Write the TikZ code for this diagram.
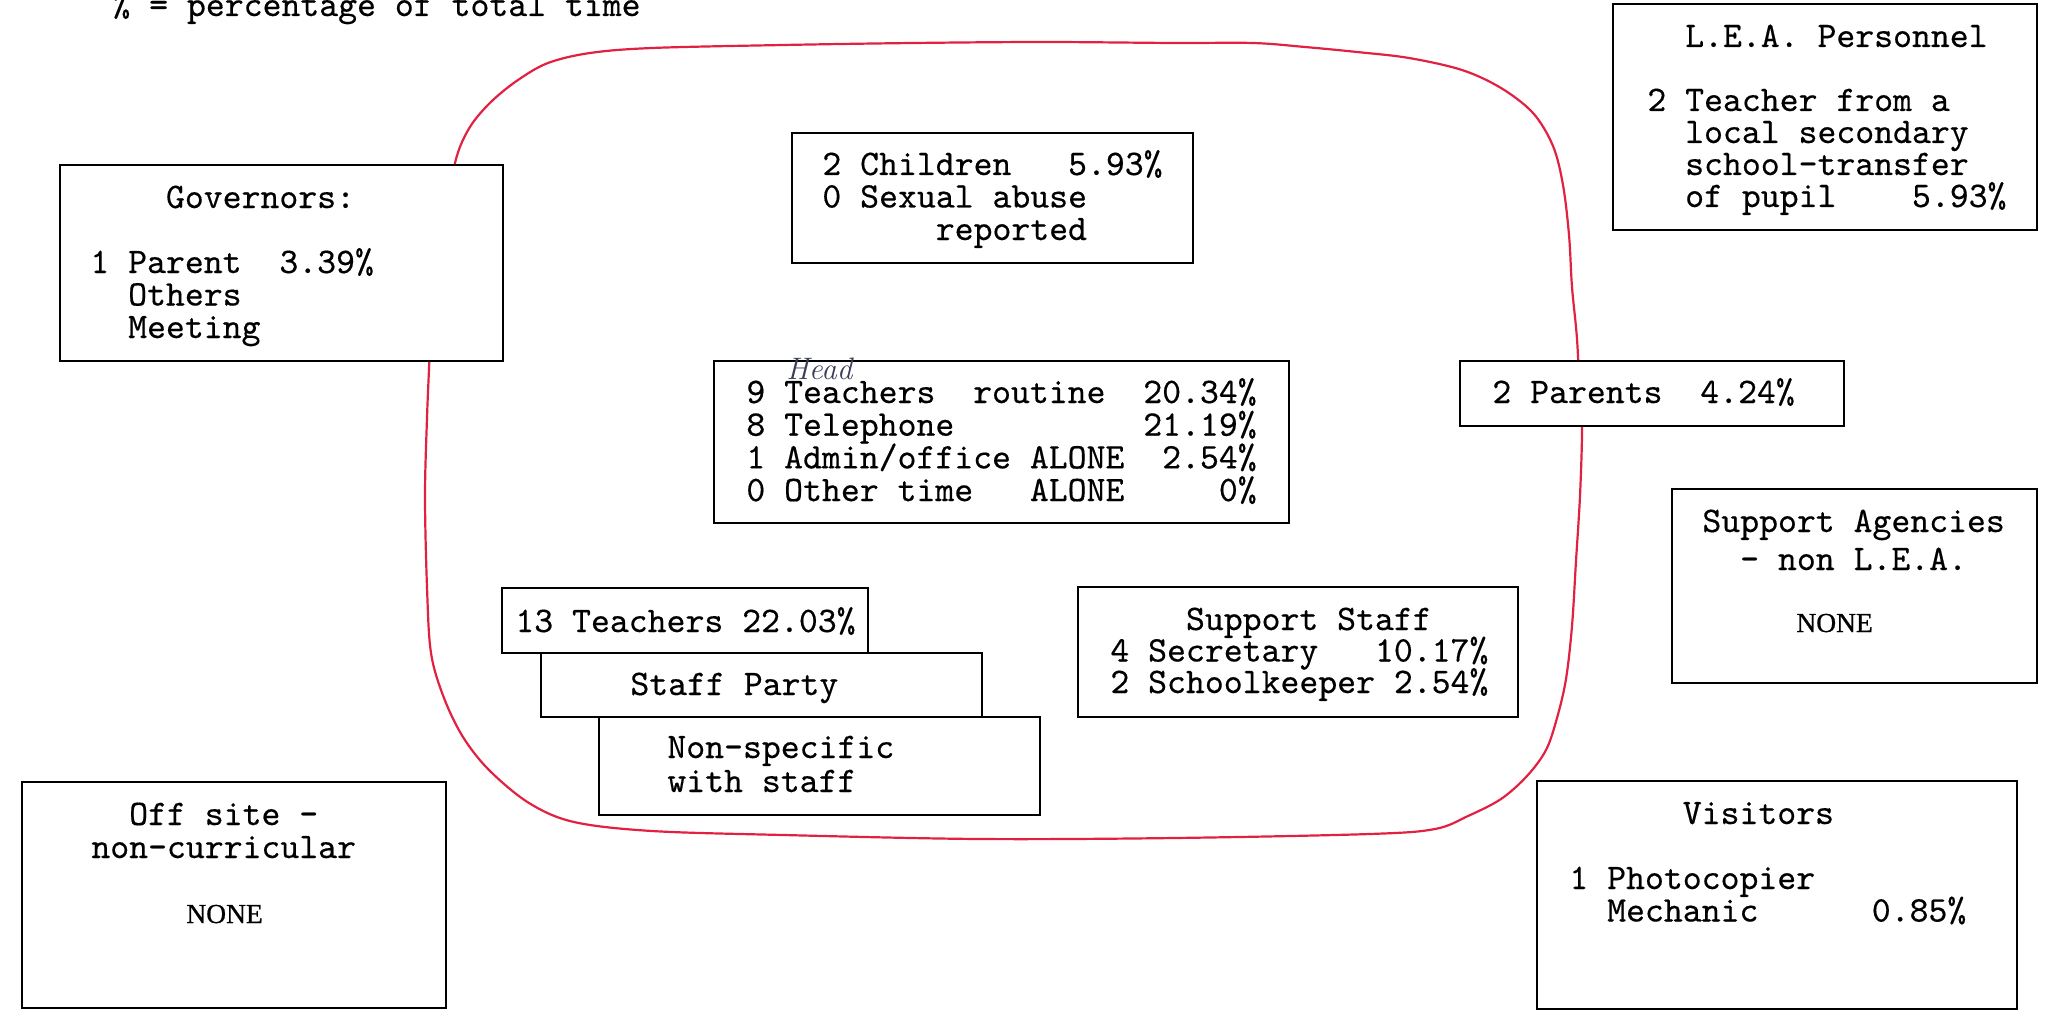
\documentclass[tikz,border=0pt]{standalone}
\usepackage{fontspec}
\newfontfamily\mono{lmmono10-regular}[Extension=.otf, WordSpace={1,0,0}, FakeBold=0.4]
\newfontfamily\tms{Liberation Serif}[FakeBold=0.8]
\usetikzlibrary{fit}
\definecolor{loopred}{RGB}{226,32,66}
\definecolor{pencil}{RGB}{58,62,88}
% stacked lines with a fixed baseline distance; the box baseline is the first line
\newcommand\rows[2]{\vtop{\baselineskip=#1\lineskiplimit=-\maxdimen\lineskip=0pt\halign{##\hfil\cr#2\crcr}}}
\begin{document}
\frenchspacing
\begin{tikzpicture}[x=0.5pt,y=-0.5pt,
  box/.style={draw=black, fill=white, line width=1pt, inner sep=0pt, outer sep=0pt},
  tA/.style={inner sep=0pt, anchor=base west, font=\mono\fontsize{18}{18}\selectfont},
  nonetxt/.style={inner sep=0pt, anchor=base west, font=\tms\fontsize{13.75}{14}\selectfont},
  hand/.style={inner sep=0pt, anchor=base west, text=pencil, font=\fontsize{15.5}{15.5}\selectfont\itshape},
  redline/.style={draw=loopred, line width=1.1pt, line cap=round, line join=round}]
\useasboundingbox (0,0) rectangle (2046,1011);

% key
\node[tA] (key) at (111,16) {\% = percentage of total time};

% the hand-drawn boundary of the school site
\draw[redline] plot[smooth, tension=0.55] coordinates {
  (452,185) (455,163) (462,142) (474,121) (493,100) (518,80) (548,63) (590,53)
  (652,48) (783,45) (913,43) (1044,42) (1175,43) (1253,43) (1305,47) (1357,52)
  (1409,58) (1462,70) (1501,88) (1533,113) (1553,146) (1563,185) (1569,235)
  (1572,287) (1577,339) (1580,400) (1582,431) (1580,496) (1576,561) (1572,626)
  (1566,679) (1557,718) (1546,750) (1527,776) (1501,799) (1468,816) (1435,829)
  (1370,834) (1175,838) (979,839) (783,835) (652,831) (574,822) (529,803)
  (489,770) (463,737) (444,698) (431,653) (427,587) (425,496) (427,418)
  (429,369) (430,340)};

% Governors
\node[box, fit={(60,165) (503,361)}] (gov) {};
\node[tA] (govt) at (90,208) {\rows{16.25pt}{~~~~Governors:\cr\cr 1 Parent~~3.39\%\cr~~Others\cr~~Meeting}};

% Children
\node[box, fit={(792,133) (1193,263)}] (chi) {};
\node[tA] (chit) at (822,175) {\rows{16.25pt}{2 Children~~~5.93\%\cr 0 Sexual abuse\cr~~~~~~reported}};

% head teacher's own contacts
\node[box, fit={(714,361) (1289,523)}] (cen) {};
\node[tA] (cent) at (746,403) {\rows{16.35pt}{9 Teachers~~routine~~20.34\%\cr 8 Telephone~~~~~~~~~~21.19\%\cr 1 Admin/office ALONE~~2.54\%\cr 0 Other time~~~ALONE~~~~~0\%}};
\node[hand] (head) at (786,379) {Head};

% teachers, stacked boxes
\node[box, fit={(502,588) (868,653)}] (tea) {};
\node[tA] (teat) at (515,632) {13 Teachers 22.03\%};
\node[box, fit={(541,653) (982,717)}] (par) {};
\node[tA] (part) at (630,695) {Staff Party};
\node[box, fit={(599,717) (1040,815)}] (nsp) {};
\node[tA] (nspt) at (667,758) {\rows{17pt}{Non-specific\cr with staff}};

% support staff
\node[box, fit={(1078,587) (1518,717)}] (sup) {};
\node[tA] (supt) at (1110,630) {\rows{15.75pt}{~~~~Support Staff\cr 4 Secretary~~~10.17\%\cr 2 Schoolkeeper 2.54\%}};

% L.E.A. personnel
\node[box, fit={(1613,4) (2037,230)}] (lea) {};
\node[tA] (leat) at (1647,47) {\rows{16pt}{~~L.E.A. Personnel\cr\cr 2 Teacher from a\cr~~local secondary\cr~~school-transfer\cr~~of pupil~~~~5.93\%}};

% parents
\node[box, fit={(1460,361) (1844,426)}] (pare) {};
\node[tA] (paret) at (1492,403) {2 Parents~~4.24\%};

% support agencies
\node[box, fit={(1672,489) (2037,683)}] (age) {};
\node[tA] (aget) at (1702,532) {\rows{19pt}{Support Agencies\cr~~- non L.E.A.}};
\node[nonetxt] (agen) at (1796,632) {NONE};

% off site
\node[box, fit={(22,782) (446,1008)}] (off) {};
\node[tA] (offt) at (91,825) {\rows{16.5pt}{~~Off site -\cr non-curricular}};
\node[nonetxt] (offn) at (186,923) {NONE};

% visitors
\node[box, fit={(1537,781) (2017,1009)}] (vis) {};
\node[tA] (vist) at (1569,824) {\rows{16.25pt}{~~~~~~Visitors\cr\cr 1 Photocopier\cr~~Mechanic~~~~~~0.85\%}};
\end{tikzpicture}
\end{document}
